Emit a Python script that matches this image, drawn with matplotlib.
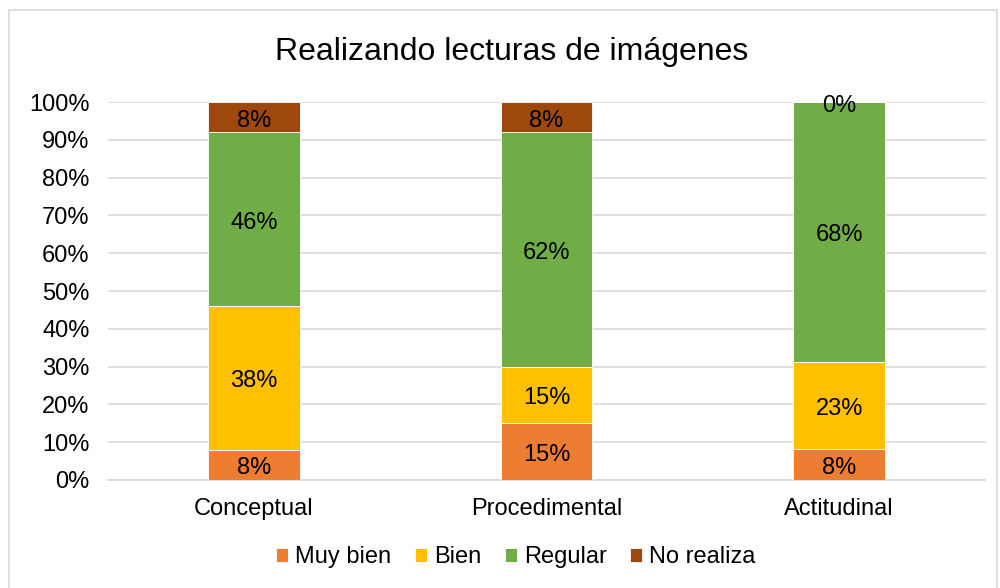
import matplotlib
matplotlib.use("Agg")
import matplotlib.pyplot as plt
import matplotlib.transforms as mtransforms
import numpy as np
from matplotlib.patches import Rectangle

plt.rcParams['font.family'] = ['Liberation Sans', 'DejaVu Sans']

title = "Realizando lecturas de imágenes"
categories = ["Conceptual", "Procedimental", "Actitudinal"]
series_names = ["Muy bien", "Bien", "Regular", "No realiza"]
muy_bien = [8, 15, 8]
bien = [38, 15, 23]
regular = [46, 62, 68]
no_realiza = [8, 8, 0]
colors = ["#ED7D31", "#FFC000", "#70AD47", "#9E480E"]
yticks = [0, 10, 20, 30, 40, 50, 60, 70, 80, 90, 100]

series = [muy_bien, bien, regular, no_realiza]
data = np.array(series, dtype=float)
totals = data.sum(axis=0)
pct = data / totals * 100

fig = plt.figure(figsize=(10, 5.88), dpi=100)
fig.patches.append(Rectangle((0.009, -0.01), 0.988, 0.993, transform=fig.transFigure,
                             fill=False, edgecolor="#D9D9D9", linewidth=1.2))
ax = fig.add_axes([0.1075, 0.1837, 0.878, 0.6428])

FS = 17
label_tr = mtransforms.offset_copy(ax.transData, fig=fig, x=0, y=-3.5, units='dots')
x = np.arange(len(categories))
bottom = np.zeros(len(categories))
handles = []
for i, name in enumerate(series_names):
    bars = ax.bar(x, pct[i], 0.314, bottom=bottom, color=colors[i], label=name,
                  edgecolor="white", linewidth=0.6, zorder=3)
    handles.append(bars)
    for j in range(len(categories)):
        yc = bottom[j] + pct[i][j] / 2
        ax.text(x[j], yc, f"{int(series[i][j])}%", transform=label_tr,
                ha="center", va="center", fontsize=FS, color="#000000", zorder=4)
    bottom += pct[i]

ax.set_xlim(-0.5, len(categories) - 0.5)
ax.set_ylim(0, 100)
ax.set_yticks(yticks)
ax.set_yticklabels([f"{t}%" for t in yticks])
ax.set_xticks(x)
ax.set_xticklabels(categories)
ax.tick_params(axis="both", length=0, labelsize=FS, colors="#000000")
ax.tick_params(axis="y", pad=13)
ax.tick_params(axis="x", pad=13)
ax.grid(axis="y", color="#D9D9D9", linewidth=1.2, zorder=0)
for s in ["top", "right", "left"]:
    ax.spines[s].set_visible(False)
ax.spines["bottom"].set_color("#D9D9D9")
ax.spines["bottom"].set_linewidth(1.2)

fig.text(0.512, 0.912, title, ha="center", va="center", fontsize=23, color="#000000")

fig.legend(handles=handles, labels=series_names, loc="center", bbox_to_anchor=(0.516, 0.052),
           ncol=4, frameon=False, fontsize=FS, handlelength=0.5, handleheight=0.5,
           handletextpad=0.3, columnspacing=1.0)

fig.savefig("out.png", dpi=100)
